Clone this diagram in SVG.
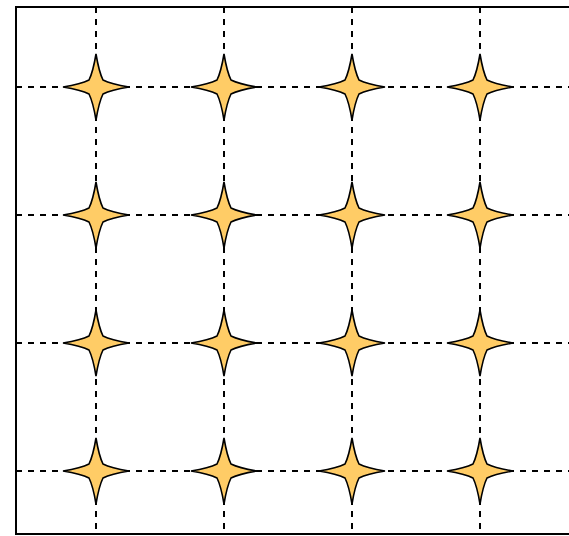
<svg xmlns="http://www.w3.org/2000/svg" width="569" height="536" viewBox="0 0 569 536">
<defs>
<style>
.grid line{stroke:#000;stroke-width:2;stroke-dasharray:6 6;fill:none}
.frame{stroke:#000;stroke-width:2;fill:none}
.star{fill:#FFCC66;stroke:#000;stroke-width:1.6;stroke-linejoin:miter}
</style>
<path id="s" class="star" d="M0,-33 Q3,-15 7,-7 Q15,-3 33,0 Q15,3 7,7 Q3,15 0,33 Q-3,15 -7,7 Q-15,3 -33,0 Q-15,-3 -7,-7 Q-3,-15 0,-33 Z"/>
</defs>
<rect width="569" height="536" fill="#fff"/>
<g id="connectors" class="grid">
<line x1="96" y1="7" x2="96" y2="534"/>
<line x1="224" y1="7" x2="224" y2="534"/>
<line x1="352" y1="7" x2="352" y2="534"/>
<line x1="480" y1="7" x2="480" y2="534"/>
<line x1="16" y1="87" x2="569" y2="87"/>
<line x1="16" y1="215" x2="569" y2="215"/>
<line x1="16" y1="343" x2="569" y2="343"/>
<line x1="16" y1="471" x2="569" y2="471"/>
</g>
<path id="frame" class="frame" d="M569,7 H16 V534 H569"/>
<g id="star-1-1"><use href="#s" x="96" y="87"/></g>
<g id="star-1-2"><use href="#s" x="224" y="87"/></g>
<g id="star-1-3"><use href="#s" x="352" y="87"/></g>
<g id="star-1-4"><use href="#s" x="480" y="87"/></g>
<g id="star-2-1"><use href="#s" x="96" y="215"/></g>
<g id="star-2-2"><use href="#s" x="224" y="215"/></g>
<g id="star-2-3"><use href="#s" x="352" y="215"/></g>
<g id="star-2-4"><use href="#s" x="480" y="215"/></g>
<g id="star-3-1"><use href="#s" x="96" y="343"/></g>
<g id="star-3-2"><use href="#s" x="224" y="343"/></g>
<g id="star-3-3"><use href="#s" x="352" y="343"/></g>
<g id="star-3-4"><use href="#s" x="480" y="343"/></g>
<g id="star-4-1"><use href="#s" x="96" y="471"/></g>
<g id="star-4-2"><use href="#s" x="224" y="471"/></g>
<g id="star-4-3"><use href="#s" x="352" y="471"/></g>
<g id="star-4-4"><use href="#s" x="480" y="471"/></g>
</svg>
